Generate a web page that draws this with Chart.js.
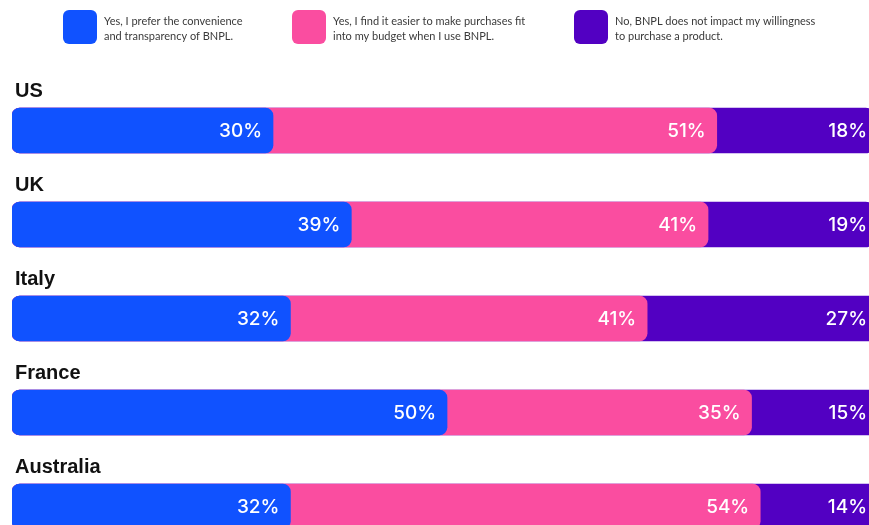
<!DOCTYPE html>
<html>
<head>
<meta charset="utf-8">
<script src="https://cdn.jsdelivr.net/npm/chart.js@4"></script>
<style>
  html, body { margin:0; padding:0; background:#fff; overflow:hidden; }
  #wrap { width:869px; height:525px; overflow:hidden; }
</style>
</head>
<body>
<div id="wrap"><canvas id="bnpl_chart" width="869" height="560"></canvas></div>
<script>
// countries and answer shares (%)
let countries = ["US", "UK", "Italy", "France", "Australia"];
let convenience = [30, 39, 32, 50, 32];
let budget = [51, 41, 41, 35, 54];
let noImpact = [18, 19, 27, 15, 14];

let legendLines = [
    ["Yes, I prefer the convenience", "and transparency of BNPL."],
    ["Yes, I find it easier to make purchases fit", "into my budget when I use BNPL."],
    ["No, BNPL does not impact my willingness", "to purchase a product."]
];
let colors = ["#1052FF", "#FA4DA0", "#5200C2"];

// bars overlap (not stacked) so each segment shows its rounded end over the next one
let series = [convenience, budget, noImpact];
let cumulative = series.map(function(s, k) {
    return s.map(function(v, i) {
        let total = 0;
        for (let j = 0; j <= k; j++) total += series[j][i];
        return total;
    });
});

let legendX = [63, 292, 574];

let drawExtras = {
    id: "drawExtras",
    afterDatasetsDraw: function(chart) {
        let ctx = chart.ctx;
        let area = chart.chartArea;
        let yScale = chart.scales.y;
        ctx.save();

        // country names above each bar
        ctx.fillStyle = "#111";
        ctx.font = "bold 20px 'Liberation Sans', Arial, sans-serif";
        ctx.textAlign = "left";
        ctx.textBaseline = "alphabetic";
        for (let i = 0; i < countries.length; i++) {
            let y = yScale.getPixelForValue(i);
            ctx.fillText(countries[i], 15, y - 22.5 - 11);
        }

        // value labels inside segments
        ctx.fillStyle = "#fff";
        ctx.font = "500 19px Inter, sans-serif";
        ctx.textAlign = "right";
        ctx.textBaseline = "middle";
        for (let k = 0; k < series.length; k++) {
            let meta = chart.getDatasetMeta(k);
            meta.data.forEach(function(bar, i) {
                let x = bar.x > area.right ? area.right - 2 : bar.x - 11;
                ctx.fillText(series[k][i] + "%", x, bar.y + 1);
            });
        }

        // legend
        for (let k = 0; k < legendLines.length; k++) {
            ctx.fillStyle = colors[k];
            ctx.beginPath();
            ctx.roundRect(legendX[k], 10, 34, 34, 6);
            ctx.fill();
            ctx.fillStyle = "#3a3a3a";
            ctx.font = "11px Lato, sans-serif";
            ctx.textAlign = "left";
            ctx.fillText(legendLines[k][0], legendX[k] + 41, 21);
            ctx.fillText(legendLines[k][1], legendX[k] + 41, 36);
        }
        ctx.restore();
    }
};

let chart = new Chart(document.getElementById("bnpl_chart"), {
    type: 'bar',
    data: {
        labels: countries,
        datasets: cumulative.map(function(d, k) {
            return {
                label: legendLines[k].join(" "),
                data: d,
                backgroundColor: colors[k],
                borderRadius: 8,
                borderSkipped: false,
                barThickness: 45
            };
        })
    },
    options: {
        responsive: false,
        animation: false,
        indexAxis: "y",
        grouped: false,
        layout: { padding: { left: 12, right: 0, top: 83.5, bottom: 6.5 } },
        scales: {
            x: { display: false, min: 0, max: 98.5 },
            y: { display: false }
        },
        plugins: {
            legend: { display: false },
            tooltip: { enabled: false }
        }
    },
    plugins: [drawExtras]
});
</script>
</body>
</html>
